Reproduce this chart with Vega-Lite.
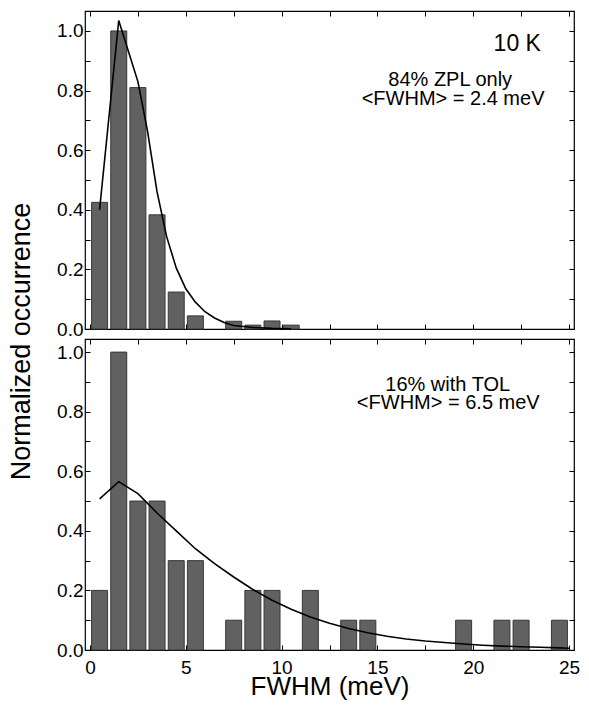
{
  "$schema": "https://vega.github.io/schema/vega-lite/v6.json",
  "background": "white",
  "padding": {"left": 6, "top": 9, "right": 5, "bottom": 5},
  "spacing": 10,
  "bounds": "flush",
  "config": {
    "view": {"stroke": "black", "strokeWidth": 1.2},
    "axis": {"domain": false, "grid": false, "labelFont": "Liberation Sans", "labelFontSize": 19, "labelColor": "black", "tickColor": "black", "tickSize": -5, "tickWidth": 1, "titleFont": "Liberation Sans", "titleColor": "black", "titleFontWeight": "normal", "labelFlush": false, "labelOverlap": false},
    "text": {"font": "Liberation Sans", "color": "black"}
  },
  "datasets": {
    "top_bars": [
      {"fwhm": 0.5, "occ": 0.425}, {"fwhm": 1.5, "occ": 1.0}, {"fwhm": 2.5, "occ": 0.81}, {"fwhm": 3.5, "occ": 0.383},
      {"fwhm": 4.5, "occ": 0.124}, {"fwhm": 5.5, "occ": 0.044}, {"fwhm": 7.5, "occ": 0.026}, {"fwhm": 8.5, "occ": 0.013},
      {"fwhm": 9.5, "occ": 0.027}, {"fwhm": 10.5, "occ": 0.013}
    ],
    "top_fit": [
      {"fwhm": 0.5, "occ": 0.40}, {"fwhm": 1.5, "occ": 1.035}, {"fwhm": 2.5, "occ": 0.83}, {"fwhm": 3.0, "occ": 0.665},
      {"fwhm": 3.5, "occ": 0.46}, {"fwhm": 4.0, "occ": 0.31}, {"fwhm": 4.5, "occ": 0.205}, {"fwhm": 5.0, "occ": 0.135},
      {"fwhm": 5.5, "occ": 0.09}, {"fwhm": 6.0, "occ": 0.058}, {"fwhm": 6.5, "occ": 0.037}, {"fwhm": 7.0, "occ": 0.022},
      {"fwhm": 7.5, "occ": 0.012}, {"fwhm": 8.5, "occ": 0.005}, {"fwhm": 9.5, "occ": 0.002}, {"fwhm": 10.5, "occ": 0.001}
    ],
    "top_notes": [
      {"fwhm": 22.3, "occ": 0.956, "label": "10 K", "size": 23},
      {"fwhm": 18.8, "occ": 0.834, "label": "84% ZPL only", "size": 20},
      {"fwhm": 18.95, "occ": 0.772, "label": "<FWHM> = 2.4 meV", "size": 20}
    ],
    "bottom_bars": [
      {"fwhm": 0.5, "occ": 0.2}, {"fwhm": 1.5, "occ": 1.0}, {"fwhm": 2.5, "occ": 0.5}, {"fwhm": 3.5, "occ": 0.5},
      {"fwhm": 4.5, "occ": 0.3}, {"fwhm": 5.5, "occ": 0.3}, {"fwhm": 7.5, "occ": 0.1}, {"fwhm": 8.5, "occ": 0.2},
      {"fwhm": 9.5, "occ": 0.2}, {"fwhm": 11.5, "occ": 0.2}, {"fwhm": 13.5, "occ": 0.1}, {"fwhm": 14.5, "occ": 0.1},
      {"fwhm": 19.5, "occ": 0.1}, {"fwhm": 21.5, "occ": 0.1}, {"fwhm": 22.5, "occ": 0.1}, {"fwhm": 24.5, "occ": 0.1}
    ],
    "bottom_fit": [
      {"fwhm": 0.5, "occ": 0.507}, {"fwhm": 1.5, "occ": 0.565}, {"fwhm": 2.5, "occ": 0.525}, {"fwhm": 3.5, "occ": 0.46},
      {"fwhm": 4.5, "occ": 0.40}, {"fwhm": 5.5, "occ": 0.34}, {"fwhm": 6.5, "occ": 0.29}, {"fwhm": 7.5, "occ": 0.245},
      {"fwhm": 8.5, "occ": 0.203}, {"fwhm": 9.5, "occ": 0.167}, {"fwhm": 10.5, "occ": 0.137}, {"fwhm": 11.5, "occ": 0.111},
      {"fwhm": 12.5, "occ": 0.09}, {"fwhm": 13.5, "occ": 0.072}, {"fwhm": 14.5, "occ": 0.058}, {"fwhm": 15.5, "occ": 0.046},
      {"fwhm": 16.5, "occ": 0.037}, {"fwhm": 17.5, "occ": 0.03}, {"fwhm": 18.5, "occ": 0.025}, {"fwhm": 19.5, "occ": 0.02},
      {"fwhm": 20.5, "occ": 0.016}, {"fwhm": 21.5, "occ": 0.013}, {"fwhm": 22.5, "occ": 0.011}, {"fwhm": 23.5, "occ": 0.009},
      {"fwhm": 24.5, "occ": 0.007}, {"fwhm": 25.0, "occ": 0.006}
    ],
    "bottom_notes": [
      {"fwhm": 18.67, "occ": 0.888, "label": "16% with TOL", "size": 20},
      {"fwhm": 18.7, "occ": 0.828, "label": "<FWHM> = 6.5 meV", "size": 20}
    ]
  },
  "vconcat": [
    {
      "width": 489,
      "height": 318,
      "resolve": {"axis": {"x": "independent", "y": "independent"}},
      "layer": [
        {
          "data": {"name": "top_bars"},
          "mark": {"type": "bar", "width": 16, "fill": "#616161", "stroke": "#383838", "strokeWidth": 1},
          "encoding": {
            "x": {"field": "fwhm", "type": "quantitative", "scale": {"domain": [0, 25], "nice": false},
              "axis": {"orient": "bottom", "values": [0, 2.5, 5, 7.5, 10, 12.5, 15, 17.5, 20, 22.5, 25], "labels": false, "title": null}},
            "y": {"field": "occ", "type": "quantitative", "scale": {"domain": [0, 1.067], "nice": false},
              "axis": {"orient": "left", "values": [0, 0.1, 0.2, 0.3, 0.4, 0.5, 0.6, 0.7, 0.8, 0.9, 1.0],
                "labelExpr": "round(datum.value*10) % 2 == 0 ? format(datum.value, '.1f') : ''",
                "labelPadding": 7,
                "title": "Normalized occurrence", "titleFontSize": 27, "titleAngle": -90, "titleAlign": "center", "titleBaseline": "alphabetic", "titleX": -56, "titleY": 330}}
          }
        },
        {
          "data": {"name": "top_fit"},
          "mark": {"type": "line", "color": "black", "strokeWidth": 1.6},
          "encoding": {
            "x": {"field": "fwhm", "type": "quantitative",
              "axis": {"orient": "top", "values": [0, 2.5, 5, 7.5, 10, 12.5, 15, 17.5, 20, 22.5, 25], "labels": false, "title": null}},
            "y": {"field": "occ", "type": "quantitative",
              "axis": {"orient": "right", "values": [0, 0.1, 0.2, 0.3, 0.4, 0.5, 0.6, 0.7, 0.8, 0.9, 1.0], "labels": false, "title": null}}
          }
        },
        {
          "data": {"name": "top_notes"},
          "mark": {"type": "text", "align": "center", "baseline": "middle"},
          "encoding": {
            "x": {"field": "fwhm", "type": "quantitative", "axis": null},
            "y": {"field": "occ", "type": "quantitative", "axis": null},
            "text": {"field": "label"},
            "size": {"field": "size", "type": "quantitative", "scale": null, "legend": null}
          }
        }
      ]
    },
    {
      "width": 489,
      "height": 311,
      "resolve": {"axis": {"x": "independent", "y": "independent"}},
      "layer": [
        {
          "data": {"name": "bottom_bars"},
          "mark": {"type": "bar", "width": 16, "fill": "#616161", "stroke": "#383838", "strokeWidth": 1},
          "encoding": {
            "x": {"field": "fwhm", "type": "quantitative", "scale": {"domain": [0, 25], "nice": false},
              "axis": {"orient": "bottom", "values": [0, 2.5, 5, 7.5, 10, 12.5, 15, 17.5, 20, 22.5, 25],
                "labelExpr": "datum.value % 5 == 0 ? datum.label : ''", "labelPadding": 13,
                "title": "FWHM (meV)", "titleFontSize": 26, "titleBaseline": "alphabetic", "titleY": 44}},
            "y": {"field": "occ", "type": "quantitative", "scale": {"domain": [0, 1.044], "nice": false},
              "axis": {"orient": "left", "values": [0, 0.1, 0.2, 0.3, 0.4, 0.5, 0.6, 0.7, 0.8, 0.9, 1.0],
                "labelExpr": "round(datum.value*10) % 2 == 0 ? format(datum.value, '.1f') : ''",
                "labelPadding": 7, "title": null}}
          }
        },
        {
          "data": {"name": "bottom_fit"},
          "mark": {"type": "line", "color": "black", "strokeWidth": 1.6},
          "encoding": {
            "x": {"field": "fwhm", "type": "quantitative",
              "axis": {"orient": "top", "values": [0, 2.5, 5, 7.5, 10, 12.5, 15, 17.5, 20, 22.5, 25], "labels": false, "title": null}},
            "y": {"field": "occ", "type": "quantitative",
              "axis": {"orient": "right", "values": [0, 0.1, 0.2, 0.3, 0.4, 0.5, 0.6, 0.7, 0.8, 0.9, 1.0], "labels": false, "title": null}}
          }
        },
        {
          "data": {"name": "bottom_notes"},
          "mark": {"type": "text", "align": "center", "baseline": "middle"},
          "encoding": {
            "x": {"field": "fwhm", "type": "quantitative", "axis": null},
            "y": {"field": "occ", "type": "quantitative", "axis": null},
            "text": {"field": "label"},
            "size": {"field": "size", "type": "quantitative", "scale": null, "legend": null}
          }
        }
      ]
    }
  ]
}
